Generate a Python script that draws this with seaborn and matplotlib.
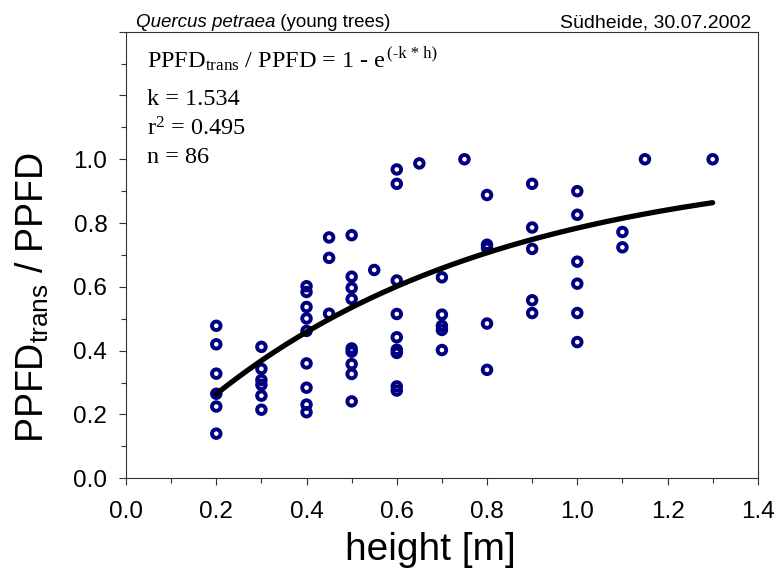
import numpy as np
import pandas as pd
import matplotlib
matplotlib.use("Agg")
import matplotlib.pyplot as plt
from matplotlib.ticker import MultipleLocator, FixedLocator
import seaborn as sns

# Measured relative light transmission below young oaks, by tree height
height = [0.2] * 6 + [0.3] * 6 + [0.4] * 9 + [0.45] * 3 + [0.5] * 9 + [0.55] + [0.6] * 9 \
    + [0.65] + [0.7] * 5 + [0.75] + [0.8] * 5 + [0.9] * 5 + [1.0] * 6 + [1.1] * 2 + [1.15] + [1.3]
ppfd_ratio = [
    0.478, 0.420, 0.328, 0.265, 0.225, 0.140,                      # 0.2
    0.412, 0.343, 0.308, 0.293, 0.259, 0.215,                      # 0.3
    0.602, 0.584, 0.537, 0.501, 0.462, 0.360, 0.284, 0.231, 0.207,  # 0.4
    0.755, 0.691, 0.516,                                           # 0.45
    0.762, 0.632, 0.597, 0.562, 0.407, 0.397, 0.358, 0.327, 0.241,  # 0.5
    0.653,                                                         # 0.55
    0.968, 0.923, 0.620, 0.515, 0.442, 0.403, 0.393, 0.288, 0.275,  # 0.6
    0.987,                                                         # 0.65
    0.630, 0.513, 0.478, 0.465, 0.402,                             # 0.7
    1.0,                                                           # 0.75
    0.888, 0.732, 0.722, 0.485, 0.340,                             # 0.8
    0.923, 0.786, 0.719, 0.558, 0.518,                             # 0.9
    0.900, 0.826, 0.679, 0.610, 0.518, 0.427,                      # 1.0
    0.772, 0.724,                                                  # 1.1
    1.0,                                                           # 1.15
    1.0,                                                           # 1.3
]

# Fitted light extinction coefficient
k = 1.534
r2 = 0.495
n = 86

x_ticks = [0.0, 0.2, 0.4, 0.6, 0.8, 1.0, 1.2, 1.4]
y_tick_labels = ["0.0", "0.2", "0.4", "0.6", "0.8", "1.0"]

sns.set_style("ticks")
plt.rcParams["font.family"] = ["Liberation Sans", "DejaVu Sans"]
plt.rcParams["mathtext.fontset"] = "custom"
plt.rcParams["mathtext.rm"] = "Liberation Serif"
plt.rcParams["mathtext.sf"] = "Liberation Sans"
plt.rcParams["mathtext.it"] = "Liberation Serif:italic"
plt.rcParams["text.color"] = "black"
plt.rcParams["axes.labelcolor"] = "black"
plt.rcParams["xtick.color"] = "black"
plt.rcParams["ytick.color"] = "black"

df = pd.DataFrame({"height": height, "ratio": ppfd_ratio})
h_fit = np.linspace(0.2, 1.3, 200)
fit = pd.DataFrame({"height": h_fit, "ratio": 1 - np.exp(-k * h_fit)})

W, H = 778, 569
fig = plt.figure(figsize=(W / 100, H / 100), dpi=100)
ax = fig.add_axes([0.162, 0.1594, 0.812, 0.785])

sns.scatterplot(data=df, x="height", y="ratio", ax=ax, marker="o", s=38,
                facecolor="none", edgecolor="#000080", linewidth=2.8, zorder=3)
sns.lineplot(data=fit, x="height", y="ratio", ax=ax, color="black",
             linewidth=3.8, zorder=4)

ax.set_xlim(0, 1.4)
ax.set_ylim(0, 1.4)
ax.xaxis.set_major_locator(FixedLocator(x_ticks))
ax.set_xticklabels([f"{t:.1f}" for t in x_ticks])
ax.xaxis.set_minor_locator(MultipleLocator(0.1))
ax.yaxis.set_major_locator(FixedLocator([0.0, 0.2, 0.4, 0.6, 0.8, 1.0, 1.2, 1.4]))
ax.set_yticklabels(y_tick_labels + ["", ""])
ax.yaxis.set_minor_locator(MultipleLocator(0.1))
ax.tick_params(axis="both", which="major", direction="out", length=5, width=0.8,
               labelsize=17.5, color="#333333")
ax.tick_params(axis="x", which="major", pad=11)
ax.tick_params(axis="y", which="major", pad=8.5)
ax.tick_params(axis="both", which="minor", direction="out", length=3.5, width=0.8,
               color="#333333")
for sp in ax.spines.values():
    sp.set_linewidth(0.8)
    sp.set_color("#333333")
    sp.set_visible(True)

ax.set_xlabel("height [m]", fontsize=28)
ax.xaxis.set_label_coords(0.481, -0.12)
ax.set_ylabel(r"PPFD$_{\mathsf{trans}}$ / PPFD", fontsize=27)
ax.yaxis.set_label_coords(-0.118, 0.406)

serif = ["Liberation Serif", "DejaVu Serif"]
ann_size = 17.5
x0 = 0.033
eq = ax.text(x0, 0.919, r"PPFD$_{\mathrm{trans}}$ / PPFD = 1 - e",
             transform=ax.transAxes, fontsize=ann_size, family=serif,
             va="baseline", ha="left")
ax.text(x0, 0.836, f"k = {k:.3f}", transform=ax.transAxes, fontsize=ann_size,
        family=serif, va="baseline", ha="left")
ax.text(x0, 0.768, f"r$^{{2}}$ = {r2:.3f}", transform=ax.transAxes, fontsize=ann_size,
        family=serif, va="baseline", ha="left")
ax.text(x0, 0.706, f"n = {n}", transform=ax.transAxes, fontsize=ann_size,
        family=serif, va="baseline", ha="left")

fig.canvas.draw()
renderer = fig.canvas.get_renderer()

# exponent of the fit equation, set as a raised smaller text
eq_box = eq.get_window_extent(renderer)
base_y = ax.transAxes.transform((0, 0.919))[1]
fig.text((eq_box.x1 + 1) / W, (base_y + 10) / H, "(-k * h)", fontsize=12,
         family=serif, va="baseline", ha="left")

# header line above the plot frame
t1 = fig.text(136 / W, (H - 27) / H, "Quercus petraea", style="italic", fontsize=13.5,
              ha="left", va="baseline")
b1 = t1.get_window_extent(renderer)
fig.text(b1.x1 / W, (H - 27) / H, " (young trees)", fontsize=13.5, ha="left",
         va="baseline")
fig.text(751 / W, (H - 27) / H, "Südheide, 30.07.2002", fontsize=14, ha="right",
         va="baseline")

fig.savefig("out.png", dpi=100)
